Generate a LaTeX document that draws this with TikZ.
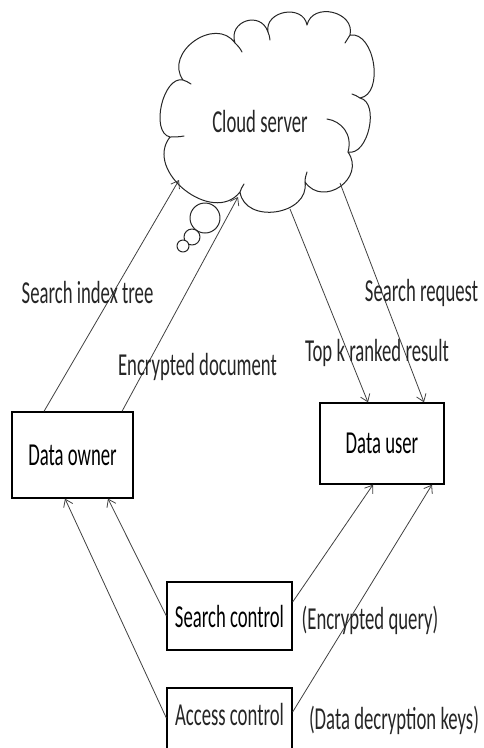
\documentclass[tikz,border=0pt]{standalone}
\usepackage{fontspec}
\setmainfont{Carlito}[FakeStretch=0.585]
\usetikzlibrary{arrows.meta}
\tikzset{
  box/.style={draw=black, line width=1.3pt, fill=white, inner sep=0pt},
  lbl/.style={inner sep=0pt, text=black!85},
  link/.style={draw=black!75, line width=0.8pt, -{Straight Barb[length=7pt,width=10pt]}},
  outline/.style={draw=black!85, line width=1pt, line join=round, line cap=round},
  bubble/.style={outline, circle, inner sep=0pt, fill=white},
  puff/.style={bend left=90, looseness=#1},
}
\begin{document}
\begin{tikzpicture}[x=1pt, y=-1pt, font=\fontsize{32}{34}\selectfont]
\useasboundingbox (0,0) rectangle (484,748);
\clip (0,0) rectangle (484,748);

% cloud outline, puff by puff (clockwise from the left)
\draw[outline, fill=white]
  (183,80)  to[puff=1.35] (235,43)
            to[puff=1.7]  (268,32)
            to[puff=1.4]  (307,25)
            to[puff=1.4]  (350,35)
            to[puff=1.0]  (360,98)
            to[puff=0.95] (348,152)
            to[puff=1.55] (305,182)
            to[puff=1.3]  (240,192)
            to[puff=1.25] (170,137)
            to[puff=0.9]  (183,80) -- cycle;
% inner hooks of the puffs
\draw[outline] (348,152) .. controls (353,134) and (341,121) .. (327,119);
\draw[outline] (235,43) .. controls (238,46) and (240,48) .. (242,52);
\draw[outline] (268,32) .. controls (269,35) and (270,37) .. (270,40);
\draw[outline] (350,35) .. controls (348,38) and (347,40) .. (345,43);
\draw[outline] (360,98) .. controls (357,96) and (355,95) .. (352,94);
\draw[outline] (305,182) .. controls (305,178) and (306,175) .. (307,172);
\draw[outline] (240,192) .. controls (241,189) and (242,187) .. (244,184);
\draw[outline] (170,137) .. controls (174,137) and (179,137) .. (184,136);
\draw[outline] (183,80) .. controls (186,81) and (188,82) .. (191,84);
\node[lbl] (cloudtext) at (260,122) {Cloud server};

% thought bubbles under the cloud
\node[bubble, minimum size=30pt] (b1) at (205,218) {};
\node[bubble, minimum size=16pt] (b2) at (192,237) {};
\node[bubble, minimum size=12pt] (b3) at (183,246) {};

% points where the connectors meet the cloud
\coordinate (indexin) at (179,180);
\coordinate (docin) at (238,197);
\coordinate (resultout) at (290,209);
\coordinate (requestout) at (340,183);

% parties
\node[box, minimum width=121pt, minimum height=86pt] (owner) at (72.5,455) {Data owner};
\node[box, minimum width=124pt, minimum height=81pt] (user) at (382,443.5) {Data user};
\node[box, minimum width=125pt, minimum height=68pt] (search) at (229.5,616) {Search control};
\node[box, minimum width=125pt, minimum height=68pt] (access) at (229.5,722) {};
\node[lbl] (accesstext) at (229.5,714) {Access control};

% connectors
\draw[link] ([xshift=-28.5pt]owner.north) -- (indexin);
\draw[link] ([xshift=49.5pt]owner.north) -- (docin);
\draw[link] (resultout) -- ([xshift=-14pt]user.north);
\draw[link] (requestout) -- ([xshift=42pt]user.north);
\draw[link] (search.west) -- ([xshift=35.5pt]owner.south);
\draw[link] ([yshift=4pt]access.west) -- ([xshift=-7.5pt]owner.south);
\draw[link] ([yshift=14pt]search.east) -- ([xshift=-9pt]user.south);
\draw[link] ([yshift=10pt]access.east) -- ([xshift=50pt]user.south);

% labels
\node[lbl] (l1) at (87.5,293) {Search index tree};
\node[lbl] (l2) at (197.5,367) {Encrypted document};
\node[lbl] (l3) at (377,353) {Top k ranked result};
\node[lbl] (l4) at (421.5,293) {Search request};
\node[lbl] (l5) at (370,620) {(Encrypted query)};
\node[lbl] (l6) at (394,720) {(Data decryption keys)};
\end{tikzpicture}
\end{document}
